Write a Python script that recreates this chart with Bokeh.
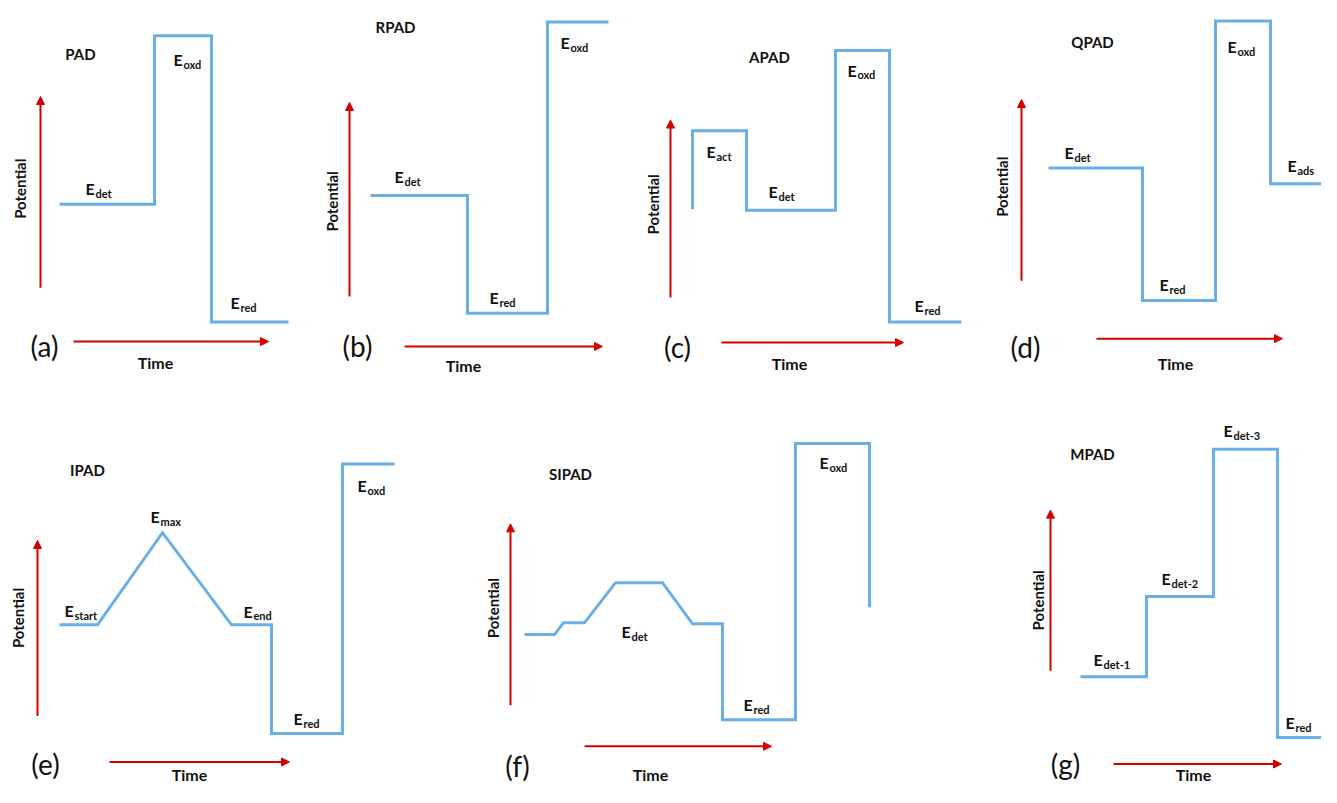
from math import pi
from bokeh.plotting import figure
from bokeh.models import Range1d, Arrow, NormalHead
from bokeh.core.properties import value
from bokeh.embed import file_html
from bokeh.resources import INLINE

FONT = "Lato"
BLUE = "#6aaee6"
RED = "#d40000"
INK = "#111111"

# ---- waveform data (time, potential) per panel ----
pad_t = [59, 154, 154, 211, 211, 288]
pad_e = [208, 208, 36, 36, 328, 328]

rpad_t = [370, 467, 467, 547, 547, 608]
rpad_e = [199, 199, 319, 319, 22, 22]

apad_t = [692, 692, 746, 746, 835, 835, 889, 889, 961]
apad_e = [213, 133, 133, 214, 214, 51, 51, 328, 328]

qpad_t = [1048, 1142, 1142, 1215, 1215, 1270, 1270, 1337]
qpad_e = [171, 171, 306, 306, 21, 21, 187, 187]

ipad_t = [59, 97, 162, 231, 271, 271, 342, 342, 394]
ipad_e = [637, 637, 543, 637, 637, 748, 748, 473, 473]

sipad_t = [524, 554, 563, 584, 615, 662, 692, 722, 722, 795, 795, 869, 869]
sipad_e = [647, 647, 635, 635, 594, 594, 636, 636, 734, 734, 452, 452, 619]

mpad_t = [1080, 1146, 1146, 1213, 1213, 1277, 1277, 1337]
mpad_e = [690, 690, 608, 608, 458, 458, 752, 752]

waves = [(pad_t, pad_e), (rpad_t, rpad_e), (apad_t, apad_e), (qpad_t, qpad_e),
         (ipad_t, ipad_e), (sipad_t, sipad_e), (mpad_t, mpad_e)]

# ---- panel names and letters ----
titles = ["PAD", "RPAD", "APAD", "QPAD", "IPAD", "SIPAD", "MPAD"]
title_x = [80, 395, 769, 1092, 87, 570, 1092]
title_y = [55, 27, 58, 42, 479, 483, 463]

letters = ["(a)", "(b)", "(c)", "(d)", "(e)", "(f)", "(g)"]
letter_x = [44, 357, 677, 1025, 45, 517, 1065]
letter_y = [353, 353, 354, 354, 779, 781, 779]

# ---- axis arrows ----
pot_x = [40, 349, 670, 1021, 37, 510, 1050]
pot_y0 = [293, 302, 303, 286, 730, 719, 684]
pot_y1 = [98, 104, 122, 101, 551, 534, 520]
pot_lx = [19, 331, 652, 1001, 17, 492, 1037]
pot_ly = [192, 205, 208, 190, 630, 620, 612]

time_y = [348, 353, 349, 345, 777, 761, 779]
time_x0 = [73, 404, 721, 1096, 109, 584, 1113]
time_x1 = [268, 602, 903, 1282, 289, 771, 1281]
time_lx = [155, 463, 789, 1175, 189, 650, 1193]
time_ly = [369, 372, 370, 370, 790, 790, 790]

# ---- level labels: subscript, x, y ----
lab_sub = ["det", "oxd", "red",
           "det", "red", "oxd",
           "act", "det", "oxd", "red",
           "det", "red", "oxd", "ads",
           "start", "max", "end", "red", "oxd",
           "det", "red", "oxd",
           "det-1", "det-2", "det-3", "red"]
lab_x = [85, 173, 230,
         394, 489, 560,
         706, 768, 847, 914,
         1064, 1159, 1227, 1287,
         64, 150, 243, 293, 357,
         621, 743, 819,
         1093, 1161, 1223, 1285]
lab_y = [192, 60, 308,
         180, 303, 43,
         154, 195, 71, 311,
         155, 290, 47, 168,
         622, 527, 623, 733, 495,
         644, 718, 471,
         672, 590, 439, 737]

W, H = 1321, 787
p = figure(width=W, height=H, output_backend="svg", toolbar_location=None,
           x_range=Range1d(0, W), y_range=Range1d(803, 0),
           min_border=0, outline_line_color=None)
p.axis.visible = False
p.grid.visible = False
p.background_fill_color = "white"
p.border_fill_color = "white"

for t, e in waves:
    p.line(t, e, line_color=BLUE, line_width=3, line_join="miter")

for i in range(7):
    p.add_layout(Arrow(end=NormalHead(size=8, fill_color=RED, line_color=RED),
                       x_start=pot_x[i], y_start=pot_y0[i], x_end=pot_x[i], y_end=pot_y1[i],
                       line_color=RED, line_width=2))
    p.add_layout(Arrow(end=NormalHead(size=8, fill_color=RED, line_color=RED),
                       x_start=time_x0[i], y_start=time_y[i], x_end=time_x1[i], y_end=time_y[i],
                       line_color=RED, line_width=2))

p.text(x=title_x, y=title_y, text=titles, text_font=value(FONT), text_font_style="bold",
       text_font_size="15px", text_align="center", text_baseline="middle", text_color=INK)
p.text(x=letter_x, y=letter_y, text=letters, text_font=value(FONT),
       text_font_size="28px", text_align="center", text_baseline="middle", text_color=INK)
p.text(x=time_lx, y=time_ly, text=["Time"] * 7, text_font=value(FONT), text_font_style="bold",
       text_font_size="16px", text_align="center", text_baseline="middle", text_color=INK)
p.text(x=pot_lx, y=pot_ly, text=["Potential"] * 7, text_font=value(FONT), text_font_style="bold",
       text_font_size="15px", text_align="center", text_baseline="middle", angle=pi / 2,
       text_color=INK)

p.text(x=lab_x, y=lab_y, text=["E"] * len(lab_x), text_font=value(FONT), text_font_style="bold",
       text_font_size="16px", text_align="left", text_baseline="middle", text_color=INK)
p.text(x=[x + 10 for x in lab_x], y=[y + 5 for y in lab_y], text=lab_sub, text_font=value(FONT),
       text_font_style="bold", text_font_size="11px", text_align="left", text_baseline="middle",
       text_color=INK)

open("out.html", "w").write(file_html(p, INLINE))
